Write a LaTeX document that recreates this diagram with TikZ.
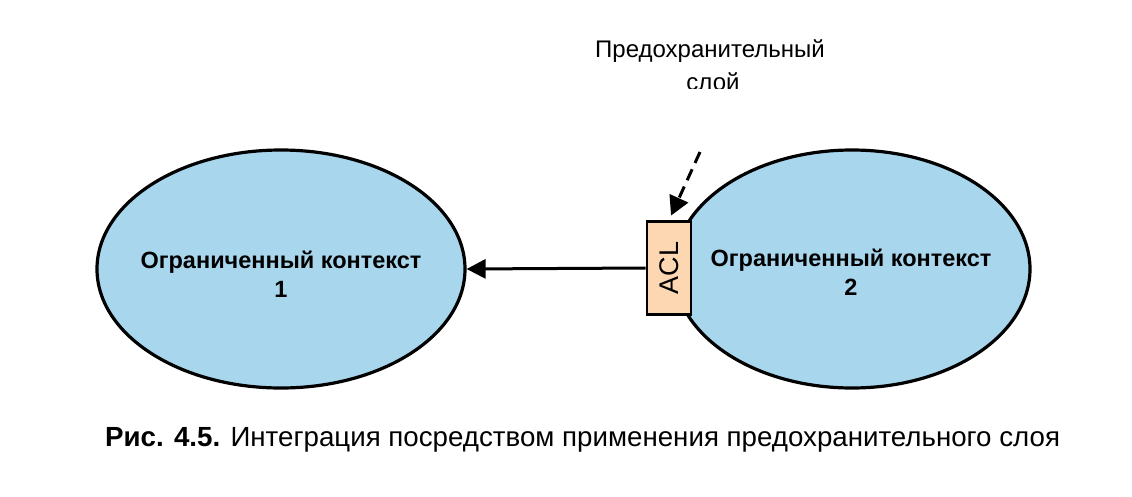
\documentclass[tikz,border=0pt]{standalone}
\usepackage{fontspec}
\setmainfont{Liberation Sans}
\usetikzlibrary{shapes.geometric,arrows.meta}
\definecolor{ctxblue}{HTML}{A8D6ED}
\definecolor{aclpeach}{HTML}{FCD7B2}
\tikzset{
  ctx/.style={ellipse, draw=black, line width=3.2pt, fill=ctxblue, inner sep=0pt},
  ctxtext/.style={align=center, inner sep=0pt, font=\fontsize{23.5}{29}\selectfont\bfseries},
  lbltext/.style={inner sep=0pt, font=\fontsize{24}{24}\selectfont},
  aclbox/.style={rectangle, draw=black, line width=2.8pt, fill=aclpeach, minimum width=44pt, minimum height=93pt, inner sep=0pt},
  conn/.style={line width=3pt, -{Triangle[length=19pt,width=19pt]}},
  dconn/.style={line width=3pt, dash pattern=on 12pt off 7pt, -{Triangle[length=19pt,width=20pt]}},
}
\begin{document}
\begin{tikzpicture}[x=1pt,y=-1pt]
\useasboundingbox (0,0) rectangle (1132,496);
\node[ctx, minimum width=368pt, minimum height=238pt] (e1) at (281,269) {};
\node[ctx, minimum width=356pt, minimum height=238pt] (e2) at (852,269) {};
\node[ctxtext] (e1txt) at (281,274) {Ограниченный контекст\\1};
\node[ctxtext] (e2txt) at (851,272) {Ограниченный контекст\\2};
\node[aclbox] (acl) at (669,268) {};
\node[rotate=90, font=\fontsize{27}{27}\selectfont, inner sep=0pt] (acltxt) at (acl.center) {ACL};
\draw[conn] (acl.west) -- (e1.east);
\node[lbltext, anchor=base] (lbl1) at (710,57) {Предохранительный};
\begin{scope}
\clip (500,0) rectangle (900,88);
\node[lbltext, anchor=base] (lbl2) at (713,90) {слой};
\end{scope}
\coordinate (dstart) at (700,152);
\draw[dconn, shorten >=5pt] (dstart) -- (acl.north);
\node[anchor=west, inner sep=0pt, font=\fontsize{27.7}{27.7}\selectfont] (cap) at (105,440) {\textbf{Рис. 4.5.} Интеграция посредством применения предохранительного слоя};
\end{tikzpicture}
\end{document}
